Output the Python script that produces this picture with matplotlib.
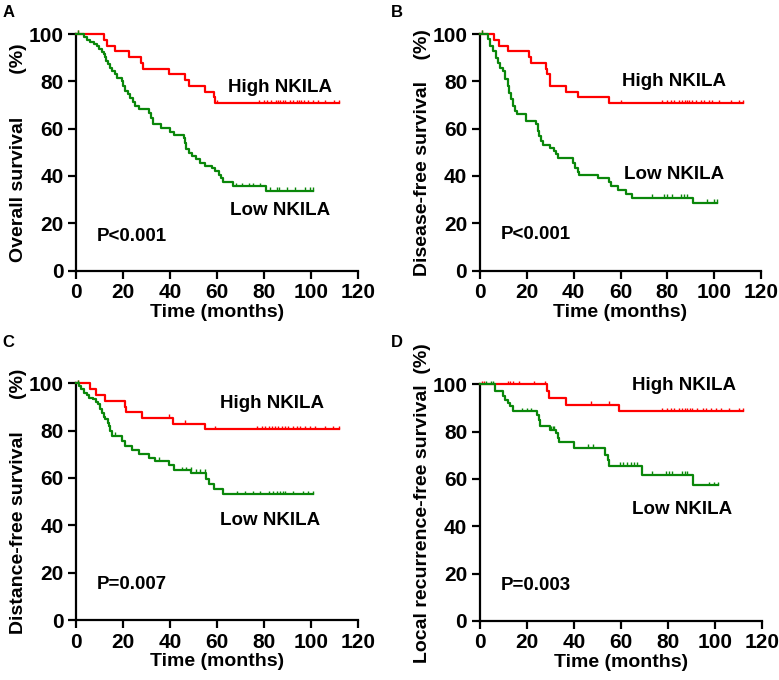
import numpy as np
import matplotlib
matplotlib.use("Agg")
import matplotlib.pyplot as plt

plt.rcParams['font.family'] = ['Liberation Sans', 'DejaVu Sans']
plt.rcParams['font.weight'] = 'bold'

# ---- Panel A: overall survival ----
a_high_t = [12.1, 13.3, 16.5, 22.7, 27.7, 28.6, 39.8, 46.5, 48.0, 54.9, 58.7, 59.4]
a_high_s = [97.6, 95.1, 92.7, 90.2, 87.8, 85.4, 82.9, 80.5, 78.0, 75.6, 73.2, 70.7]
a_high_cens = [1, 60, 78, 80, 81.5, 83, 85, 86, 87, 88, 89, 91, 92.5, 94, 95, 96, 97,
               99, 101, 103, 106, 110, 112]
a_low_t = [3.3, 4.7, 6.1, 7.5, 8.9, 9.7, 11.1, 12.1, 12.5, 12.9, 13.5, 14.4, 15.3, 16.5,
           17.5, 19.6, 20.0, 21.0, 22.2, 23.2, 24.3, 25.3, 26.7, 31.0, 32.0, 32.7, 36.0,
           40.2, 41.7, 45.9, 46.3, 46.9, 48.0, 49.4, 50.9, 52.6, 54.8, 58.0, 59.1, 60.8,
           61.8, 62.6, 67.0, 81.0]
a_low_s = [98.7, 97.6, 96.5, 95.6, 94.8, 93.6, 92.5, 91.4, 90.3, 88.6, 87.2, 85.8, 84.3,
           82.9, 81.5, 80.1, 78.0, 75.9, 74.5, 73.1, 71.4, 69.6, 68.2, 66.8, 64.6, 61.8,
           60.4, 58.7, 57.3, 56.1, 54.0, 51.6, 49.8, 48.4, 47.0, 45.5, 44.1, 43.4, 42.0,
           40.6, 39.0, 37.3, 35.6, 33.8]
a_low_cens = [1, 68, 70.6, 73.5, 75.6, 78.4, 82.7, 85.6, 86.3, 89.8, 93.4, 97.6, 99.7, 101]

# ---- Panel B: disease-free survival ----
b_high_t = [6.0, 8.3, 12.2, 21.0, 22.0, 28.2, 28.8, 29.8, 36.8, 41.7, 55.2]
b_high_s = [97.6, 95.1, 92.7, 90.2, 87.8, 85.4, 82.9, 78.0, 75.6, 73.2, 70.7]
b_high_cens = [1, 60, 77.8, 80, 81.4, 82.8, 85, 86.4, 87.3, 88.2, 89.2, 90.6, 92, 94.2,
               95.6, 97.9, 99.1, 102, 106.9, 110.5, 112.2]
b_low_t = [3.4, 4.4, 5.5, 6.9, 7.7, 8.8, 9.8, 10.9, 11.9, 12.6, 13.5, 14.3, 15.0, 15.8,
           19.7, 24.0, 24.7, 25.4, 26.1, 26.8, 30.0, 31.8, 32.5, 33.2, 39.9, 40.6, 41.7,
           42.5, 50.3, 54.9, 55.9, 58.8, 62.2, 65.0, 90.9]
b_low_s = [97.7, 94.9, 92.8, 90.0, 87.9, 85.7, 84.3, 80.8, 78.0, 75.2, 72.4, 69.5, 67.4,
           66.3, 63.2, 61.8, 58.9, 56.8, 54.7, 53.3, 51.9, 50.5, 49.1, 47.4, 45.6, 43.4,
           41.7, 40.6, 39.2, 37.5, 35.7, 34.0, 32.5, 30.8, 28.6]
b_low_cens = [1, 73.6, 78.5, 79.9, 82.1, 85.6, 87, 88.5, 96.9, 99.8, 101.2]

# ---- Panel C: distance-free survival ----
c_high_t = [6.0, 8.5, 12.5, 20.8, 21.5, 28.0, 41.5, 55.0]
c_high_s = [97.6, 95.1, 92.7, 90.2, 87.8, 85.4, 82.9, 80.5]
c_high_cens = [1, 39.8, 46.6, 59.1, 77, 79.1, 80.5, 82, 83.4, 84.8, 86.2, 87.6, 89.1,
               90.5, 92.6, 94, 95.5, 97.6, 99.8, 101.9, 106.1, 109.6, 112.1]
c_low_t = [1.1, 2.3, 3.3, 4.7, 5.7, 7.2, 8.5, 9.4, 10.4, 11.1, 11.8, 12.5, 13.5, 14.2,
           14.6, 15.3, 19.6, 21.0, 23.9, 26.7, 31.0, 33.8, 39.8, 41.6, 49.1, 55.4, 56.5,
           58.7, 62.5]
c_low_s = [98.9, 97.4, 96.0, 94.9, 93.9, 93.2, 92.1, 91.1, 89.3, 87.3, 85.9, 84.8, 83.4,
           82.0, 79.9, 77.7, 75.6, 73.5, 71.8, 70.0, 68.6, 67.2, 65.3, 63.2, 62.0, 59.4,
           57.3, 55.2, 53.1]
c_low_cens = [1, 16.5, 35.5, 45, 47, 49, 51, 53, 55, 68.5, 71.9, 75.6, 78.4, 82, 84.1,
              85.5, 86.9, 88, 89, 92.6, 96.9, 98.9, 101.1]

# ---- Panel D: local recurrence-free survival ----
d_high_t = [28.5, 29.5, 36.6, 59.0]
d_high_s = [97.1, 94.3, 91.4, 88.6]
d_high_cens = [1, 2, 12, 13, 14, 16.8, 23.2, 27.9, 47.3, 55.1, 77.6, 79.7, 81.1, 82.5,
               84.6, 85.8, 87, 88.2, 89.4, 90.3, 92.4, 94.6, 96, 98.1, 100.2, 102.3,
               105.9, 110.1, 111.8]
d_low_t = [6.5, 9.8, 10.9, 11.9, 13.0, 14.3, 24.3, 25.0, 25.6, 30.0, 32.4, 33.1, 33.8,
           39.9, 53.4, 54.3, 55.0, 68.8, 90.6]
d_low_s = [97.0, 94.9, 93.5, 92.1, 90.7, 88.6, 86.9, 85.1, 82.2, 80.8, 79.4, 77.3, 75.6,
           73.1, 70.3, 68.2, 65.5, 61.8, 57.3]
d_low_cens = [2.7, 4.8, 5.8, 18.0, 20.0, 21.8, 30.3, 31.0, 31.7, 45.8, 48.0, 59.5, 61.0,
              62.7, 64.1, 65.5, 66.9, 73.3, 78.9, 80.4, 81.8, 86.0, 87.0, 88.2, 97.4,
              99.5, 101.2]

high_end = 112
low_end = 101

RED = '#ff0000'
GREEN = '#0a870a'


def km(ax, t, s, cens, end, color):
    times = np.array([0] + t + [end])
    surv = np.array([100] + s + [s[-1]])
    ax.step(times, surv, where='post', color=color, lw=1.6, clip_on=False, zorder=3)
    c = np.array(cens)
    idx = np.searchsorted(times, c, side='right') - 1
    cs = surv[idx]
    ax.vlines(c, cs, cs + 1.6, color=color, lw=1.0, clip_on=False, zorder=3)


panels = [
    ('A', [0.0976, 0.602, 0.3616, 0.348], 'Overall survival        (%)',
     (a_high_t, a_high_s, a_high_cens), (a_low_t, a_low_s, a_low_cens),
     (64.8, 77.3), (65.6, 25.6), 'P<0.001', (8.8, 14.4), -0.174),
    ('B', [0.6158, 0.602, 0.3615, 0.348], 'Disease-free survival    (%)',
     (b_high_t, b_high_s, b_high_cens), (b_low_t, b_low_s, b_low_cens),
     (60.6, 80.0), (61.5, 40.5), 'P<0.001', (8.9, 15.1), -0.173),
    ('C', [0.0976, 0.0882, 0.3616, 0.3481], 'Distance-free survival      (%)',
     (c_high_t, c_high_s, c_high_cens), (c_low_t, c_low_s, c_low_cens),
     (61.4, 91.5), (61.4, 42.2), 'P=0.007', (8.8, 14.8), -0.174),
    ('D', [0.6158, 0.0868, 0.3628, 0.348], 'Local recurrence-free survival  (%)',
     (d_high_t, d_high_s, d_high_cens), (d_low_t, d_low_s, d_low_cens),
     (64.8, 99.7), (64.8, 46.9), 'P=0.003', (8.9, 15.2), -0.173),
]

fig = plt.figure(figsize=(7.79, 6.80), dpi=100)

for letter, rect, ylab, high, low, hpos, lpos, ptxt, ppos, labx in panels:
    ax = fig.add_axes(rect)
    km(ax, high[0], high[1], high[2], high_end, RED)
    km(ax, low[0], low[1], low[2], low_end, GREEN)
    ax.set_xlim(0, 120)
    ax.set_ylim(0, 100)
    ax.set_xticks(range(0, 121, 20))
    ax.set_yticks(range(0, 101, 20))
    for sp in ['top', 'right']:
        ax.spines[sp].set_visible(False)
    for sp in ['left', 'bottom']:
        ax.spines[sp].set_linewidth(1.6)
    ax.tick_params(direction='out', length=6, width=1.6, labelsize=15, pad=3)
    for lab in ax.get_xticklabels() + ax.get_yticklabels():
        lab.set_fontweight('bold')
    ax.set_xlabel('Time (months)', fontsize=14, fontweight='bold', labelpad=1)
    ax.set_ylabel(ylab, fontsize=14, fontweight='bold')
    ax.yaxis.set_label_coords(labx, 0.5)
    ax.text(hpos[0], hpos[1], 'High NKILA', fontsize=13.5, fontweight='bold', va='center')
    ax.text(lpos[0], lpos[1], 'Low NKILA', fontsize=13.5, fontweight='bold', va='center')
    ax.text(ppos[0], ppos[1], ptxt, fontsize=13.5, fontweight='bold', va='center')

fig.text(0.003, 0.993, 'A', fontsize=12, fontweight='bold', va='top')
fig.text(0.502, 0.993, 'B', fontsize=12, fontweight='bold', va='top')
fig.text(0.003, 0.507, 'C', fontsize=12, fontweight='bold', va='top')
fig.text(0.502, 0.507, 'D', fontsize=12, fontweight='bold', va='top')

fig.savefig('out.png', dpi=100)
